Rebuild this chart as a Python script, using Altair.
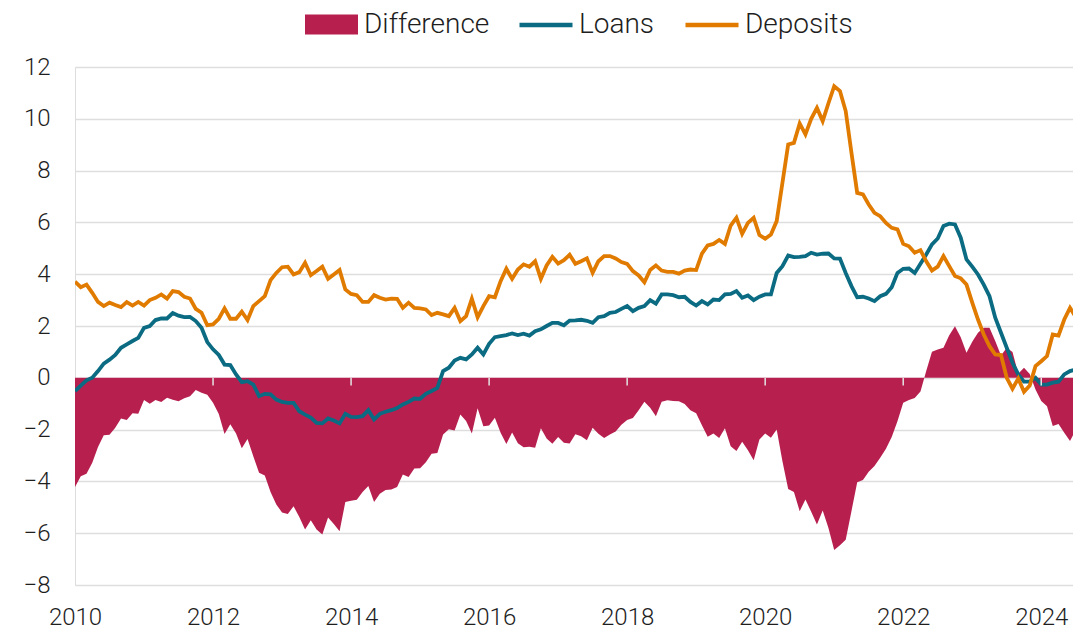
import altair as alt
import pandas as pd

# ---- data (monthly, Jan 2010 - Aug 2024) ----
loans = [
    -0.51, -0.30, -0.10, 0.00, 0.26, 0.55, 0.70, 0.88, 1.16, 1.29, 1.42, 1.54,   # 2010
    1.93, 2.00, 2.23, 2.29, 2.29, 2.50, 2.40, 2.34, 2.35, 2.19, 1.93, 1.38,      # 2011
    1.10, 0.88, 0.51, 0.49, 0.13, -0.17, -0.13, -0.26, -0.71, -0.62, -0.64, -0.84,  # 2012
    -0.93, -0.97, -0.97, -1.29, -1.42, -1.54, -1.74, -1.76, -1.57, -1.65, -1.76, -1.39,  # 2013
    -1.51, -1.52, -1.48, -1.25, -1.61, -1.39, -1.31, -1.25, -1.17, -1.03, -0.93, -0.80,  # 2014
    -0.81, -0.62, -0.51, -0.39, 0.26, 0.39, 0.67, 0.77, 0.71, 0.90, 1.16, 0.90,   # 2015
    1.31, 1.57, 1.61, 1.65, 1.71, 1.65, 1.70, 1.63, 1.80, 1.87, 2.00, 2.12,      # 2016
    2.12, 2.03, 2.21, 2.22, 2.24, 2.20, 2.12, 2.34, 2.38, 2.51, 2.54, 2.66,      # 2017
    2.77, 2.57, 2.70, 2.77, 3.00, 2.86, 3.22, 3.22, 3.19, 3.11, 3.13, 2.93,      # 2018
    2.79, 2.96, 2.83, 3.02, 3.00, 3.22, 3.24, 3.35, 3.09, 3.18, 3.00, 3.13,      # 2019
    3.22, 3.22, 4.05, 4.31, 4.72, 4.66, 4.67, 4.70, 4.83, 4.76, 4.79, 4.80,      # 2020
    4.61, 4.60, 4.05, 3.54, 3.11, 3.13, 3.06, 2.96, 3.15, 3.24, 3.50, 4.05,      # 2021
    4.21, 4.22, 4.05, 4.40, 4.76, 5.15, 5.38, 5.86, 5.95, 5.92, 5.41, 4.57,      # 2022
    4.29, 3.99, 3.60, 3.15, 2.32, 1.74, 1.16, 0.58, 0.13, -0.15, -0.15, 0.00,    # 2023
    -0.26, -0.26, -0.19, -0.15, 0.13, 0.26, 0.32, 0.48,                          # 2024
]
deposits = [
    3.71, 3.50, 3.60, 3.28, 2.93, 2.77, 2.90, 2.81, 2.73, 2.92, 2.79, 2.93,      # 2010
    2.79, 3.00, 3.09, 3.22, 3.06, 3.35, 3.31, 3.13, 3.06, 2.66, 2.51, 2.03,      # 2011
    2.06, 2.28, 2.68, 2.28, 2.28, 2.55, 2.23, 2.77, 2.96, 3.15, 3.77, 4.05,      # 2012
    4.27, 4.29, 3.99, 4.08, 4.44, 3.96, 4.12, 4.29, 3.82, 3.99, 4.16, 3.41,      # 2013
    3.24, 3.19, 2.93, 2.93, 3.19, 3.09, 3.02, 3.06, 3.05, 2.70, 2.90, 2.70,      # 2014
    2.68, 2.64, 2.42, 2.51, 2.45, 2.38, 2.70, 2.19, 2.38, 3.05, 2.34, 2.77,      # 2015
    3.15, 3.11, 3.73, 4.21, 3.82, 4.18, 4.38, 4.29, 4.50, 3.82, 4.34, 4.67,      # 2016
    4.41, 4.54, 4.75, 4.40, 4.50, 4.61, 4.05, 4.50, 4.70, 4.70, 4.61, 4.47,      # 2017
    4.40, 4.12, 3.95, 3.69, 4.16, 4.34, 4.14, 4.09, 4.09, 4.02, 4.14, 4.18,      # 2018
    4.16, 4.79, 5.11, 5.17, 5.32, 5.17, 5.88, 6.18, 5.56, 5.98, 6.18, 5.51,      # 2019
    5.37, 5.53, 6.05, 7.53, 9.01, 9.07, 9.82, 9.40, 10.00, 10.42, 9.91, 10.60,   # 2020
    11.26, 11.07, 10.30, 8.69, 7.14, 7.08, 6.69, 6.37, 6.24, 5.98, 5.79, 5.73,   # 2021
    5.17, 5.08, 4.83, 4.93, 4.50, 4.14, 4.29, 4.70, 4.31, 3.93, 3.84, 3.60,      # 2022
    2.90, 2.25, 1.67, 1.22, 0.90, 0.88, 0.00, -0.42, -0.03, -0.54, -0.30, 0.45,  # 2023
    0.64, 0.84, 1.67, 1.63, 2.25, 2.70, 2.34, 2.83,                              # 2024
]
series_names = ["Difference", "Loans", "Deposits"]
series_colors = ["#b71f4f", "#0a6b82", "#e07b00"]
y_ticks = [-8, -6, -4, -2, 0, 2, 4, 6, 8, 10, 12]
x_ticks = [2010, 2012, 2014, 2016, 2018, 2020, 2022, 2024]
x_domain = [2010.0, 2024.46]   # the reference's plot is cut at its right edge

months = pd.date_range("2010-01-01", periods=len(loans), freq="MS")
t = months.year + (months.month - 1) / 12.0
df = pd.DataFrame({"t": t, "Loans": loans, "Deposits": deposits})
ticks_df = pd.DataFrame({"t": x_ticks[1:]})

FONT = "Roboto"
LABEL_COLOR = "#1e1e1e"
x_enc = alt.X(
    "t:Q",
    scale=alt.Scale(domain=x_domain, nice=False, zero=False),
    axis=alt.Axis(values=x_ticks, format="d", grid=False, ticks=False, domain=False,
                  labelFlush=False, labelPadding=20, labelFontSize=24, labelFont=FONT,
                  labelFontWeight=300, labelColor=LABEL_COLOR, title=None),
)
y_enc = alt.Y(
    "value:Q", scale=alt.Scale(domain=[-8, 12], nice=False),
    axis=alt.Axis(values=y_ticks, grid=True, ticks=False, domain=False, labelPadding=25,
                  labelFlush=False, labelFontSize=24, labelFont=FONT, labelFontWeight=300,
                  labelColor=LABEL_COLOR, gridColor="#dedede", gridWidth=1.5, title=None),
)

base = alt.Chart(df).transform_calculate(
    Difference="datum.Loans - datum.Deposits"
).transform_fold(series_names, as_=["series", "value"])

legend_common = dict(orient="none", direction="horizontal", title=None, labelFont=FONT,
                     labelFontSize=28, labelFontWeight=300, labelColor=LABEL_COLOR,
                     padding=0, symbolSize=2809)

area = base.transform_filter("datum.series === 'Difference'").mark_area(
    opacity=1, interpolate="linear", clip=True
).encode(
    x=x_enc, y=y_enc,
    color=alt.Color("series:N",
                    scale=alt.Scale(domain=series_names[:1], range=series_colors[:1]),
                    legend=alt.Legend(symbolType="M-1,-0.38H1V0.38H-1Z", symbolStrokeWidth=0,
                                      symbolOpacity=1, labelOffset=6, legendX=230, legendY=-69,
                                      **legend_common)),
)

lines = base.transform_filter("datum.series !== 'Difference'").mark_line(
    strokeWidth=3.8, interpolate="linear", clip=True
).encode(
    x=x_enc, y=y_enc,
    color=alt.Color("series:N",
                    scale=alt.Scale(domain=series_names[1:], range=series_colors[1:]),
                    legend=alt.Legend(symbolType="stroke", symbolStrokeWidth=4.5,
                                      labelOffset=4, columnPadding=21,
                                      legendX=442, legendY=-71, **legend_common)),
)

tick_rules = alt.Chart(ticks_df).mark_rule(color="#e4e4e4", strokeWidth=1.5).encode(
    x=alt.X("t:Q"), y=alt.datum(0), y2=alt.datum(-0.3)
)

chart = alt.layer(area, lines, tick_rules).resolve_scale(color="independent").properties(
    width=998, height=518,
    autosize=alt.AutoSizeParams(type="none"),
    padding={"left": 67, "top": 59, "right": 0, "bottom": 45},
).configure_view(stroke=None).configure(background="white")

chart.save("out.html", embed_options={"renderer": "svg", "actions": False})
